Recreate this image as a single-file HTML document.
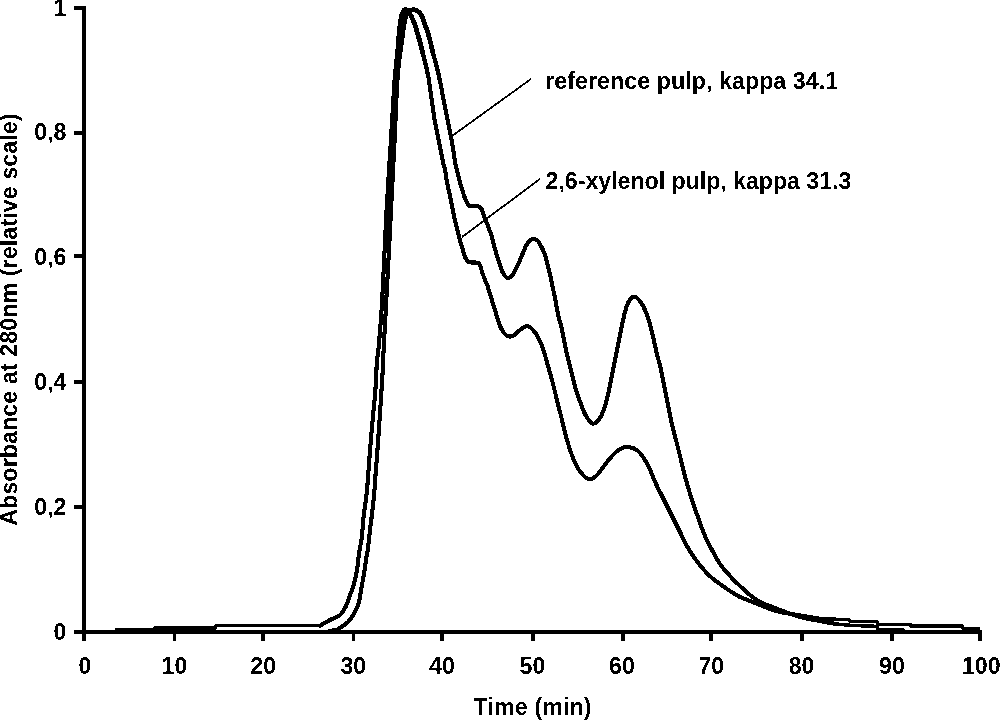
<!DOCTYPE html>
<html lang="en">
<head>
<meta charset="utf-8">
<title>Chromatogram</title>
<style>
html,body{margin:0;padding:0;background:#fff;}
body{width:1000px;height:720px;overflow:hidden;}
svg{display:block;}
text{font-family:"Liberation Sans",Arial,Helvetica,sans-serif;font-weight:bold;fill:#000;filter:url(#bw);}
.ax{stroke:#000;stroke-width:3.8;fill:none;stroke-linecap:butt;}
.tk{stroke:#000;stroke-width:3.8;fill:none;stroke-linecap:butt;}
.cv{stroke:#000;stroke-width:4.1;fill:none;stroke-linejoin:round;stroke-linecap:round;}
.ct{stroke:#000;stroke-width:3.4;fill:none;stroke-linejoin:miter;stroke-linecap:butt;}
.cq{stroke:#000;stroke-width:4.3;fill:none;stroke-linejoin:round;stroke-linecap:round;}
.cp{stroke:#000;stroke-width:4.8;fill:none;stroke-linejoin:round;stroke-linecap:round;}
.cf{stroke:#000;stroke-width:2.6;fill:none;stroke-linejoin:round;stroke-linecap:butt;}
.ld{stroke:#000;stroke-width:1.8;fill:none;}
.tl{font-size:23.2px;}
.lb{font-size:23.2px;}
</style>
</head>
<body>
<svg width="1000" height="720" viewBox="0 0 1000 720" shape-rendering="crispEdges">
<defs><filter id="bw" x="-5%" y="-20%" width="110%" height="140%" color-interpolation-filters="sRGB"><feComponentTransfer><feFuncA type="discrete" tableValues="0 0 1 1"/></feComponentTransfer></filter></defs>
<rect x="0" y="0" width="1000" height="720" fill="#ffffff"/>
<line class="ax" x1="84.0" y1="6.4" x2="84.0" y2="641.3"/>
<line class="ax" x1="74.4" y1="631.8" x2="981.6" y2="631.8"/>
<line class="tk" x1="74.4" y1="506.8" x2="84.0" y2="506.8"/>
<line class="tk" x1="74.4" y1="381.7" x2="84.0" y2="381.7"/>
<line class="tk" x1="74.4" y1="256.0" x2="84.0" y2="256.0"/>
<line class="tk" x1="74.4" y1="132.8" x2="84.0" y2="132.8"/>
<line class="tk" x1="74.4" y1="8.0" x2="84.0" y2="8.0"/>
<line class="tk" x1="174.5" y1="631.8" x2="174.5" y2="641.3"/>
<line class="tk" x1="263.0" y1="631.8" x2="263.0" y2="641.3"/>
<line class="tk" x1="353.5" y1="631.8" x2="353.5" y2="641.3"/>
<line class="tk" x1="441.9" y1="631.8" x2="441.9" y2="641.3"/>
<line class="tk" x1="532.6" y1="631.8" x2="532.6" y2="641.3"/>
<line class="tk" x1="622.6" y1="631.8" x2="622.6" y2="641.3"/>
<line class="tk" x1="711.0" y1="631.8" x2="711.0" y2="641.3"/>
<line class="tk" x1="801.6" y1="631.8" x2="801.6" y2="641.3"/>
<line class="tk" x1="892.0" y1="631.8" x2="892.0" y2="641.3"/>
<line class="tk" x1="980.0" y1="631.8" x2="980.0" y2="641.3"/>
<text class="tl" x="66.5" y="640.0" text-anchor="end">0</text>
<text class="tl" x="66.5" y="514.9" text-anchor="end">0,2</text>
<text class="tl" x="66.5" y="389.8" text-anchor="end">0,4</text>
<text class="tl" x="66.5" y="264.7" text-anchor="end">0,6</text>
<text class="tl" x="66.5" y="139.7" text-anchor="end">0,8</text>
<text class="tl" x="66.5" y="15.6" text-anchor="end">1</text>
<text class="tl" x="85.0" y="674.4" text-anchor="middle">0</text>
<text class="tl" x="174.5" y="674.4" text-anchor="middle">10</text>
<text class="tl" x="263.2" y="674.4" text-anchor="middle">20</text>
<text class="tl" x="353.3" y="674.4" text-anchor="middle">30</text>
<text class="tl" x="442.0" y="674.4" text-anchor="middle">40</text>
<text class="tl" x="532.4" y="674.4" text-anchor="middle">50</text>
<text class="tl" x="622.0" y="674.4" text-anchor="middle">60</text>
<text class="tl" x="711.3" y="674.4" text-anchor="middle">70</text>
<text class="tl" x="801.6" y="674.4" text-anchor="middle">80</text>
<text class="tl" x="892.0" y="674.4" text-anchor="middle">90</text>
<text class="tl" x="981.3" y="674.4" text-anchor="middle">100</text>
<path class="ct" d="M114.5,629.8L154,629.8L155,627.9L215,627.9L216,625.7L320,625.7"/>
<path class="cv" d="M320,625.7C321.67,624.75 326.67,621.78 330,620C333.33,618.22 337.33,617.33 340,615C342.67,612.67 344.33,609.33 346,606C347.67,602.67 348.67,598.67 350,595C351.33,591.33 352.83,588.17 354,584C355.17,579.83 356.17,575.00 357,570C357.83,565.00 358.17,559.67 359,554C359.83,548.33 361.33,541.33 362,536C362.67,530.67 362.50,527.00 363,522C363.50,517.00 364.33,511.33 365,506C365.67,500.67 366.33,497.00 367,490C367.67,483.00 368.33,472.67 369,464C369.67,455.33 370.33,446.00 371,438C371.67,430.00 372.27,424.00 373,416C373.73,408.00 374.73,399.33 375.4,390C376.07,380.67 376.50,366.67 377,360C377.50,353.33 377.60,359.00 378.4,350C379.20,341.00 380.73,323.33 381.8,306C382.87,288.67 383.97,262.67 384.8,246C385.63,229.33 385.80,223.33 386.8,206C387.80,188.67 389.55,162.33 390.8,142C392.05,121.67 393.32,98.00 394.3,84C395.28,70.00 396.07,64.50 396.7,58C397.33,51.50 397.55,50.50 398.1,45C398.65,39.50 399.42,29.90 400,25C400.58,20.10 400.93,18.05 401.6,15.6C402.27,13.15 403.10,11.20 404,10.3C404.90,9.40 406.00,9.58 407,10.2C408.00,10.82 409.03,12.45 410,14C410.97,15.55 411.97,17.67 412.8,19.5C413.63,21.33 414.02,22.00 415,25C415.98,28.00 417.87,34.67 418.7,37.5C419.53,40.33 419.28,39.25 420,42C420.72,44.75 422.00,50.00 423,54C424.00,58.00 425.07,62.00 426,66C426.93,70.00 427.60,72.00 428.6,78C429.60,84.00 430.93,94.67 432,102C433.07,109.33 433.83,115.33 435,122C436.17,128.67 437.67,135.33 439,142C440.33,148.67 442.00,157.33 443,162C444.00,166.67 444.33,166.67 445,170C445.67,173.33 446.17,177.67 447,182C447.83,186.33 448.83,190.33 450,196C451.17,201.67 452.67,210.00 454,216C455.33,222.00 457.03,228.00 458,232C458.97,236.00 459.02,237.10 459.8,240C460.58,242.90 461.92,246.80 462.7,249.4C463.48,252.00 463.85,253.83 464.5,255.6C465.15,257.37 465.85,258.90 466.6,260C467.35,261.10 467.93,261.78 469,262.2C470.07,262.62 471.50,262.40 473,262.5C474.50,262.60 476.80,262.30 478,262.8C479.20,263.30 479.55,264.09 480.2,265.5C480.85,266.91 481.07,268.73 481.9,271.25C482.73,273.77 484.32,278.31 485.2,280.6C486.08,282.89 486.40,282.77 487.2,285C488.00,287.23 488.70,289.83 490,294C491.30,298.17 493.33,304.67 495,310C496.67,315.33 498.17,321.83 500,326C501.83,330.17 503.83,333.33 506,335C508.17,336.67 510.67,336.83 513,336C515.33,335.17 517.67,331.67 520,330C522.33,328.33 524.83,326.00 527,326C529.17,326.00 531.00,327.83 533,330C535.00,332.17 537.17,335.33 539,339C540.83,342.67 542.50,347.50 544,352C545.50,356.50 546.67,361.33 548,366C549.33,370.67 550.67,375.00 552,380C553.33,385.00 554.67,390.67 556,396C557.33,401.33 559.00,408.00 560,412C561.00,416.00 560.83,415.33 562,420C563.17,424.67 565.17,433.67 567,440C568.83,446.33 571.00,453.00 573,458C575.00,463.00 576.50,466.50 579,470C581.50,473.50 585.17,478.00 588,479C590.83,480.00 593.33,478.17 596,476C598.67,473.83 601.33,469.33 604,466C606.67,462.67 609.33,458.83 612,456C614.67,453.17 617.17,450.50 620,449C622.83,447.50 626.00,446.67 629,447C632.00,447.33 635.33,448.83 638,451C640.67,453.17 642.83,456.50 645,460C647.17,463.50 649.17,468.00 651,472C652.83,476.00 654.17,480.00 656,484C657.83,488.00 660.00,492.00 662,496C664.00,500.00 666.00,504.00 668,508C670.00,512.00 672.00,516.00 674,520C676.00,524.00 677.67,527.33 680,532C682.33,536.67 685.33,543.33 688,548C690.67,552.67 693.33,556.33 696,560C698.67,563.67 701.33,567.00 704,570C706.67,573.00 709.33,575.67 712,578C714.67,580.33 717.00,581.83 720,584C723.00,586.17 726.67,588.83 730,591C733.33,593.17 736.67,595.33 740,597C743.33,598.67 746.67,599.67 750,601C753.33,602.33 756.67,603.67 760,605C763.33,606.33 766.67,607.83 770,609C773.33,610.17 775.00,610.92 780,612C785.00,613.08 793.33,614.38 800,615.5C806.67,616.62 816.67,618.17 820,618.7"/>
<path class="ct" d="M820,618.7L849,619.6L851,621.6L877,621.6L878,624.2L910,624.2L911,625.8L962,625.8L963,628.6L980,628.6"/>
<path class="ct" d="M326,631.6L338,629"/>
<path class="cv" d="M338,629C339.67,627.83 345.17,624.83 348,622C350.83,619.17 353.17,615.33 355,612C356.83,608.67 358.00,605.67 359,602C360.00,598.33 360.17,594.67 361,590C361.83,585.33 363.17,579.00 364,574C364.83,569.00 365.33,564.33 366,560C366.67,555.67 367.33,553.00 368,548C368.67,543.00 369.33,535.67 370,530C370.67,524.33 371.33,519.67 372,514C372.67,508.33 373.40,502.67 374,496C374.60,489.33 375.00,482.00 375.6,474C376.20,466.00 376.97,456.67 377.6,448C378.23,439.33 378.83,430.33 379.4,422C379.97,413.67 380.38,407.67 381,398C381.62,388.33 382.67,372.00 383.1,364C383.53,356.00 383.12,359.67 383.6,350C384.08,340.33 385.07,323.33 386,306C386.93,288.67 388.33,262.67 389.2,246C390.07,229.33 390.32,223.33 391.2,206C392.08,188.67 393.48,162.67 394.5,142C395.52,121.33 396.45,96.00 397.3,82C398.15,68.00 398.95,64.17 399.6,58C400.25,51.83 400.48,50.50 401.2,45C401.92,39.50 403.10,29.90 403.9,25C404.70,20.10 405.15,18.00 406,15.6C406.85,13.20 408.00,11.55 409,10.6C410.00,9.65 410.83,9.97 412,9.9C413.17,9.83 414.47,9.38 416,10.2C417.53,11.02 419.68,12.33 421.2,14.8C422.72,17.27 424.00,22.07 425.1,25C426.20,27.93 426.92,29.57 427.8,32.4C428.68,35.23 429.60,38.80 430.4,42C431.20,45.20 431.73,48.20 432.6,51.6C433.47,55.00 434.70,59.00 435.6,62.4C436.50,65.80 437.20,68.60 438,72C438.80,75.40 439.40,77.80 440.4,82.8C441.40,87.80 442.73,95.47 444,102C445.27,108.53 446.67,115.33 448,122C449.33,128.67 450.83,135.33 452,142C453.17,148.67 454.17,157.33 455,162C455.83,166.67 456.20,166.67 457,170C457.80,173.33 458.90,178.67 459.8,182C460.70,185.33 461.67,187.62 462.4,190C463.13,192.38 463.45,194.17 464.2,196.25C464.95,198.33 466.17,200.96 466.9,202.5C467.63,204.04 467.92,204.88 468.6,205.5C469.28,206.12 469.77,206.08 471,206.2C472.23,206.32 474.58,206.10 476,206.2C477.42,206.30 478.53,206.25 479.5,206.8C480.47,207.35 481.12,208.13 481.8,209.5C482.48,210.87 482.90,213.08 483.6,215C484.30,216.92 485.18,218.92 486,221C486.82,223.08 487.62,225.17 488.5,227.5C489.38,229.83 490.17,231.25 491.3,235C492.43,238.75 494.02,245.50 495.3,250C496.58,254.50 497.72,258.17 499,262C500.28,265.83 501.50,270.33 503,273C504.50,275.67 506.33,277.78 508,278C509.67,278.22 511.25,276.75 513,274.3C514.75,271.85 516.98,266.52 518.5,263.3C520.02,260.08 520.92,257.77 522.1,255C523.28,252.23 524.37,249.07 525.6,246.7C526.83,244.33 528.13,242.08 529.5,240.8C530.87,239.52 532.38,238.97 533.8,239C535.22,239.03 536.72,239.67 538,241C539.28,242.33 540.30,244.58 541.5,247C542.70,249.42 543.92,251.50 545.2,255.5C546.48,259.50 548.07,266.25 549.2,271C550.33,275.75 551.03,279.50 552,284C552.97,288.50 554.00,293.00 555,298C556.00,303.00 556.83,308.67 558,314C559.17,319.33 560.67,324.00 562,330C563.33,336.00 564.50,343.33 566,350C567.50,356.67 569.33,363.33 571,370C572.67,376.67 574.33,384.33 576,390C577.67,395.67 579.33,399.67 581,404C582.67,408.33 584.00,412.73 586,416C588.00,419.27 590.67,423.27 593,423.6C595.33,423.93 598.00,420.93 600,418C602.00,415.07 603.50,410.67 605,406C606.50,401.33 607.67,396.00 609,390C610.33,384.00 611.67,376.67 613,370C614.33,363.33 615.67,356.67 617,350C618.33,343.33 619.67,336.33 621,330C622.33,323.67 623.67,316.83 625,312C626.33,307.17 627.42,303.55 629,301C630.58,298.45 632.33,296.20 634.5,296.7C636.67,297.20 639.75,300.45 642,304C644.25,307.55 646.33,313.33 648,318C649.67,322.67 650.67,326.67 652,332C653.33,337.33 654.50,343.67 656,350C657.50,356.33 659.50,363.33 661,370C662.50,376.67 663.67,383.33 665,390C666.33,396.67 668.00,405.00 669,410C670.00,415.00 669.83,415.00 671,420C672.17,425.00 674.33,433.33 676,440C677.67,446.67 679.33,453.33 681,460C682.67,466.67 684.17,473.33 686,480C687.83,486.67 689.83,493.33 692,500C694.17,506.67 696.83,514.00 699,520C701.17,526.00 702.83,531.00 705,536C707.17,541.00 709.50,545.33 712,550C714.50,554.67 717.00,559.67 720,564C723.00,568.33 726.67,572.33 730,576C733.33,579.67 736.67,582.83 740,586C743.33,589.17 746.67,592.33 750,595C753.33,597.67 756.67,600.17 760,602C763.33,603.83 766.67,604.67 770,606C773.33,607.33 775.00,608.17 780,610C785.00,611.83 793.33,615.17 800,617C806.67,618.83 813.67,619.77 820,621C826.33,622.23 835.00,623.83 838,624.4"/>
<path class="ct" d="M838,624.4L855,625.6L877,626.3L878,629.6L903,629.6L904,631.5L980,631.5"/>
<path class="cq" d="M396.7,58C396.93,55.83 397.55,50.50 398.1,45C398.65,39.50 399.42,29.90 400,25C400.58,20.10 400.93,18.05 401.6,15.6C402.27,13.15 403.10,11.20 404,10.3C404.90,9.40 406.00,9.58 407,10.2C408.00,10.82 409.03,12.45 410,14C410.97,15.55 411.97,17.67 412.8,19.5C413.63,21.33 414.02,22.00 415,25C415.98,28.00 417.87,34.67 418.7,37.5C419.53,40.33 419.28,39.25 420,42C420.72,44.75 422.00,50.00 423,54C424.00,58.00 425.07,62.00 426,66C426.93,70.00 428.17,76.00 428.6,78"/>
<path class="cq" d="M399.6,58C399.87,55.83 400.48,50.50 401.2,45C401.92,39.50 403.10,29.90 403.9,25C404.70,20.10 405.15,18.00 406,15.6C406.85,13.20 408.00,11.55 409,10.6C410.00,9.65 410.83,9.97 412,9.9C413.17,9.83 414.47,9.38 416,10.2C417.53,11.02 419.68,12.33 421.2,14.8C422.72,17.27 424.00,22.07 425.1,25C426.20,27.93 426.92,29.57 427.8,32.4C428.68,35.23 429.60,38.80 430.4,42C431.20,45.20 431.73,48.20 432.6,51.6C433.47,55.00 434.70,59.00 435.6,62.4C436.50,65.80 437.20,68.60 438,72C438.80,75.40 440.00,81.00 440.4,82.8"/>
<path class="cp" d="M398.1,45C398.42,41.67 399.42,29.90 400,25C400.58,20.10 400.93,18.05 401.6,15.6C402.27,13.15 403.10,11.20 404,10.3C404.90,9.40 406.00,9.58 407,10.2C408.00,10.82 409.03,12.45 410,14C410.97,15.55 411.97,17.67 412.8,19.5C413.63,21.33 414.02,22.00 415,25C415.98,28.00 417.87,34.67 418.7,37.5C419.53,40.33 419.28,39.25 420,42C420.72,44.75 422.50,52.00 423,54"/>
<path class="cp" d="M401.2,45C401.65,41.67 403.10,29.90 403.9,25C404.70,20.10 405.15,18.00 406,15.6C406.85,13.20 408.00,11.55 409,10.6C410.00,9.65 410.83,9.97 412,9.9C413.17,9.83 414.47,9.38 416,10.2C417.53,11.02 419.68,12.33 421.2,14.8C422.72,17.27 424.00,22.07 425.1,25C426.20,27.93 426.92,29.57 427.8,32.4C428.68,35.23 429.60,38.80 430.4,42C431.20,45.20 432.23,50.00 432.6,51.6"/>
<path class="cf" d="M386.6,250L389,206L392.65,142L395.8,84L398.15,58L399.65,45L401.95,25L404,15"/>
<line class="ld" x1="452" y1="136" x2="531" y2="79"/>
<line class="ld" x1="462" y1="237" x2="540" y2="179"/>
<text class="lb" x="545.2" y="89" textLength="293" lengthAdjust="spacing">reference pulp, kappa 34.1</text>
<text class="lb" x="545.6" y="189" textLength="305.8" lengthAdjust="spacing">2,6-xylenol pulp, kappa 31.3</text>
<text class="lb" x="473.6" y="714.6" textLength="118" lengthAdjust="spacing">Time (min)</text>
<text class="lb" transform="translate(17 525.6) rotate(-90)" x="0" y="0" textLength="412.2" lengthAdjust="spacing">Absorbance at 280nm (relative scale)</text>
</svg>
</body>
</html>
